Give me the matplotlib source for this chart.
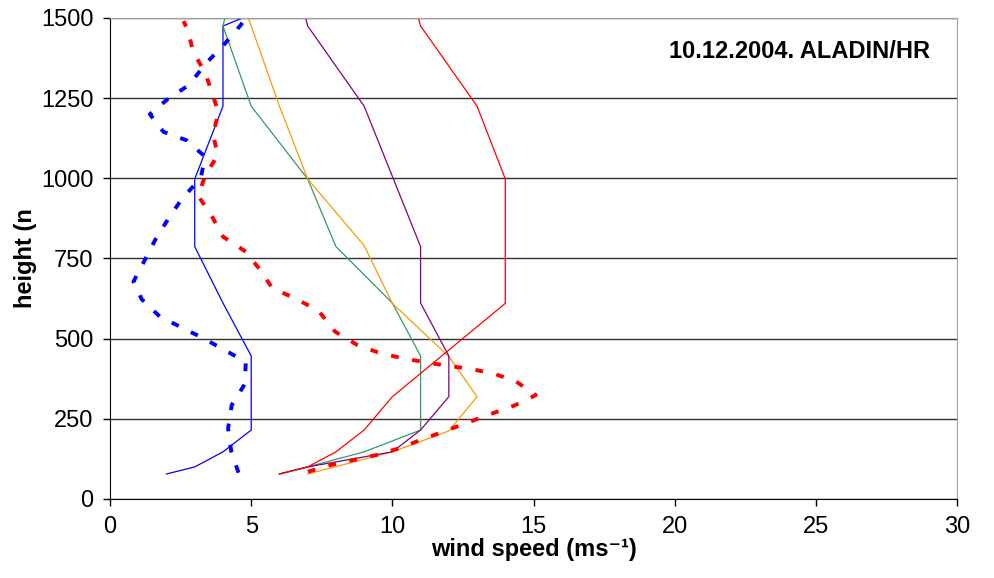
import matplotlib
matplotlib.use("Agg")
from matplotlib import pyplot as plt

plt.rcParams['font.family'] = ['Liberation Sans', 'DejaVu Sans']

# model profiles (ALADIN/HR), wind speed at model levels
h_blue = [78, 100, 147, 215, 446, 611, 787, 998, 1225, 1475, 1500]
u_blue = [2, 3, 4, 5, 5, 4, 3, 3, 4, 4, 4.69]

h_green = [78, 100, 147, 215, 446, 611, 787, 998, 1225, 1475, 1500]
u_green = [6, 7, 9, 11, 11, 10, 8, 7, 5, 4, 4.07]

h_orange = [78, 147, 212, 319, 444, 610, 790, 998, 1225, 1475, 1500]
u_orange = [7, 10, 12, 13, 12, 10, 9, 7, 6, 5, 4.89]

h_purple = [78, 100, 147, 215, 319, 446, 611, 787, 1225, 1475, 1500]
u_purple = [6, 7, 10, 11, 12, 12, 11, 11, 9, 7, 6.93]

h_red = [78, 100, 147, 215, 319, 610, 998, 1225, 1475, 1500]
u_red = [6, 7, 8, 9, 10, 14, 14, 13, 11, 10.92]

# observed profiles
h_obs_blue = [82, 150, 220, 293, 358, 428, 465, 501, 535, 569, 623, 678, 740,
              808, 872, 938, 1000, 1067, 1119, 1145, 1200, 1249, 1291, 1358,
              1413, 1478, 1500]
u_obs_blue = [4.55, 4.29, 4.18, 4.31, 4.77, 4.81, 4.04, 3.31, 2.53, 1.76, 1.12,
              0.83, 1.2, 1.6, 2.05, 2.56, 3.21, 3.37, 2.7, 1.89, 1.41, 2.07,
              2.8, 3.39, 4.0, 4.63, 4.8]

h_obs_red = [85, 106, 122, 137, 158, 186, 212, 239, 265, 291, 324, 366, 390,
             405, 415, 426, 439, 454, 480, 522, 587, 626, 657, 716, 771, 818,
             878, 946, 1008, 1072, 1138, 1205, 1265, 1329, 1395, 1462, 1490]
u_obs_red = [7.01, 7.82, 8.64, 9.43, 10.24, 11.06, 11.87, 12.69, 13.48, 14.31,
             15.08, 14.39, 13.63, 12.81, 12.0, 11.18, 10.36, 9.59, 8.76, 7.97,
             7.38, 6.55, 5.75, 5.3, 4.81, 4.0, 3.63, 3.12, 3.37, 3.81, 3.65,
             3.84, 3.62, 3.37, 2.94, 2.76, 2.6]

fig = plt.figure(figsize=(9.95, 5.78), dpi=100)
ax = fig.add_axes([0.1106, 0.1367, 0.8512, 0.8322])

ax.plot(u_blue, h_blue, color='#0000ff', lw=0.9)
ax.plot(u_green, h_green, color='#339966', lw=0.9)
ax.plot(u_orange, h_orange, color='#ff9900', lw=0.9)
ax.plot(u_purple, h_purple, color='#800080', lw=0.9)
ax.plot(u_red, h_red, color='#ff0000', lw=0.9)

ax.plot(u_obs_blue, h_obs_blue, color='#0000ff', lw=2.8, ls=(0, (2, 3.5)))
ax.plot(u_obs_red, h_obs_red, color='#ff0000', lw=2.8, ls=(0, (2, 3.5)))

ax.set_xlim(0, 30)
ax.set_ylim(0, 1500)
ax.set_xticks(range(0, 31, 5))
ax.set_yticks(range(0, 1501, 250))
ax.yaxis.grid(True, color='#303030', lw=1)
ax.set_axisbelow(True)

for s in ['top', 'right']:
    ax.spines[s].set_color('#a0a0a0')
for s in ['left', 'bottom']:
    ax.spines[s].set_color('black')
ax.tick_params(direction='out', length=5, width=1, labelsize=17, pad=7)

ax.set_xlabel('wind speed (ms\u207b\u00b9)', fontsize=17,
              fontweight='bold', labelpad=0)
ax.set_ylabel('height (n', fontsize=17, fontweight='bold', labelpad=3)

ax.text(0.968, 0.93, '10.12.2004. ALADIN/HR', transform=ax.transAxes,
        ha='right', va='center', fontsize=17, fontweight='bold')

fig.savefig('out.png', dpi=100)
